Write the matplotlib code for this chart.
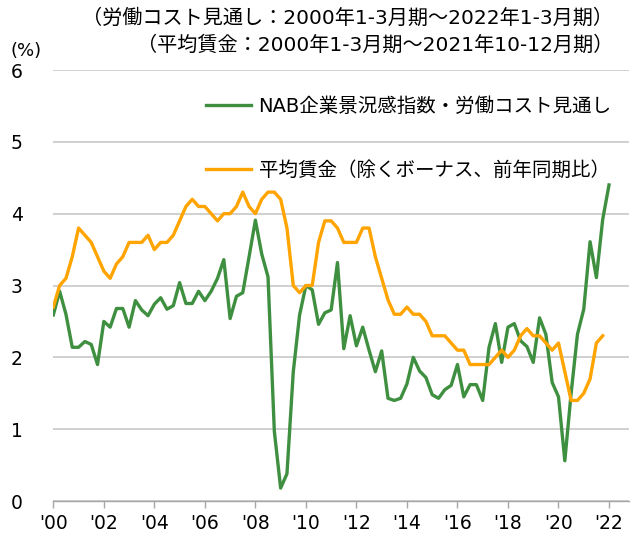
import numpy as np
import matplotlib.pyplot as plt

plt.rcParams['font.family'] = ['DejaVu Sans', 'Noto Sans CJK JP']

# NAB企業景況感指数・労働コスト見通し（2000年1-3月期～2022年1-3月期, %）
nab_labour_cost = [
    2.59, 2.92, 2.60, 2.14, 2.14, 2.22, 2.18, 1.90, 2.50, 2.42,
    2.68, 2.68, 2.42, 2.79, 2.66, 2.58, 2.74, 2.83, 2.67, 2.72,
    3.04, 2.75, 2.75, 2.92, 2.79, 2.92, 3.10, 3.36, 2.54, 2.85,
    2.90, 3.40, 3.91, 3.44, 3.12, 0.97, 0.18, 0.38, 1.80, 2.59,
    3.00, 2.94, 2.46, 2.62, 2.66, 3.32, 2.12, 2.58, 2.16, 2.42,
    2.10, 1.80, 2.09, 1.43, 1.40, 1.43, 1.63, 2.00, 1.81, 1.72,
    1.48, 1.43, 1.55, 1.61, 1.90, 1.45, 1.62, 1.62, 1.40, 2.14,
    2.47, 1.93, 2.42, 2.47, 2.23, 2.15, 1.93, 2.55, 2.32, 1.65,
    1.45, 0.56, 1.50, 2.32, 2.67, 3.61, 3.11, 3.92, 4.40,
]

# 平均賃金（除くボーナス、前年同期比）（2000年1-3月期～2021年10-12月期, %）
wage_price = [
    2.7, 3.0, 3.1, 3.4, 3.8, 3.7, 3.6, 3.4, 3.2, 3.1,
    3.3, 3.4, 3.6, 3.6, 3.6, 3.7, 3.5, 3.6, 3.6, 3.7,
    3.9, 4.1, 4.2, 4.1, 4.1, 4.0, 3.9, 4.0, 4.0, 4.1,
    4.3, 4.1, 4.0, 4.2, 4.3, 4.3, 4.2, 3.8, 3.0, 2.9,
    3.0, 3.0, 3.6, 3.9, 3.9, 3.8, 3.6, 3.6, 3.6, 3.8,
    3.8, 3.4, 3.1, 2.8, 2.6, 2.6, 2.7, 2.6, 2.6, 2.5,
    2.3, 2.3, 2.3, 2.2, 2.1, 2.1, 1.9, 1.9, 1.9, 1.9,
    2.0, 2.1, 2.0, 2.1, 2.3, 2.4, 2.3, 2.3, 2.2, 2.1,
    2.2, 1.8, 1.4, 1.4, 1.5, 1.7, 2.2, 2.3,
]

xtick_years = list(range(2000, 2023, 2))
xtick_labels = ["'%02d" % (y % 100) for y in xtick_years]
ytick_values = [0, 1, 2, 3, 4, 5, 6]

# quarter positions: 1-3月期 = year + 0.0
x_nab = 2000 + np.arange(len(nab_labour_cost)) / 4
x_wage = 2000 + np.arange(len(wage_price)) / 4

green = '#3F8F40'
orange = '#FFA400'
grid_col = '#C8C8C8'

fig = plt.figure(figsize=(6.37, 5.41), dpi=100)
ax = fig.add_axes([0.0837, 0.0739, 0.9033, 0.7967])

ax.plot(x_nab, nab_labour_cost, color=green, lw=2.4,
        label='NAB企業景況感指数・労働コスト見通し', solid_joinstyle='round')
ax.plot(x_wage, wage_price, color=orange, lw=2.4,
        label='平均賃金（除くボーナス、前年同期比）', solid_joinstyle='round')

ax.set_xlim(2000, 2022.78)
ax.set_ylim(0, 6)
ax.set_yticks(ytick_values)
ax.set_xticks(xtick_years)
ax.set_xticklabels(xtick_labels)
ax.yaxis.grid(True, color=grid_col, lw=1.2)
ax.set_axisbelow(True)

for side in ['top', 'right', 'left']:
    ax.spines[side].set_visible(False)
ax.spines['bottom'].set_color('#A6A6A6')
ax.spines['bottom'].set_linewidth(1.0)

ax.tick_params(axis='y', length=0, pad=22, labelsize=13.5)
ax.tick_params(axis='x', direction='out', length=5, width=1.0,
               color='#A6A6A6', pad=4, labelsize=13.5)

ax.text(-0.075, 1.045, '(%)', transform=ax.transAxes, fontsize=13,
        ha='left', va='center')
fig.text(0.963, 0.966, '（労働コスト見通し：2000年1-3月期～2022年1-3月期）',
         ha='right', va='center', fontsize=14.5)
fig.text(0.963, 0.916, '（平均賃金：2000年1-3月期～2021年10-12月期）',
         ha='right', va='center', fontsize=14.5)

leg = ax.legend(loc='upper left', bbox_to_anchor=(0.252, 0.955), frameon=False,
                fontsize=14, handlelength=2.3, handletextpad=0.4,
                labelspacing=2.3, borderaxespad=0)

plt.savefig('out.png', dpi=100)
